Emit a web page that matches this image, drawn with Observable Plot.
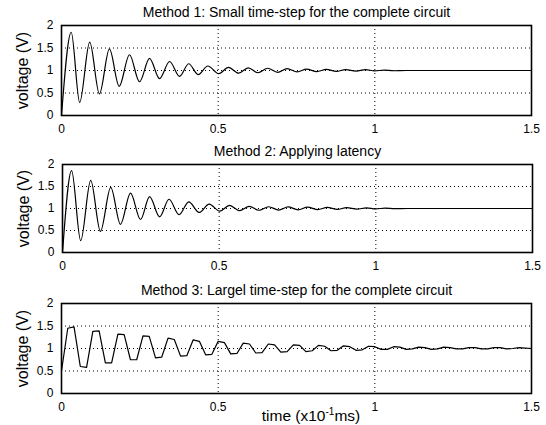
<!DOCTYPE html>
<html>
<head>
<meta charset="utf-8">
<script src="https://cdn.jsdelivr.net/npm/d3@7"></script>
<script src="https://cdn.jsdelivr.net/npm/@observablehq/plot@0.6"></script>
<style>
  html, body { margin: 0; padding: 0; background: #fff; }
  #wrap { position: relative; width: 546px; height: 425px; overflow: hidden; font-family: "Liberation Sans", Arial, sans-serif; }
  .panel { position: absolute; left: 0; }
  #xlabel { position: absolute; left: 211px; width: 200px; top: 408px; text-align: center; font-size: 15.5px; line-height: 16px; color: #000; }
  #xlabel sup { font-size: 10px; vertical-align: 6px; line-height: 0; }
</style>
</head>
<body>
<div id="wrap"></div>
<script>
// ---- Data ----
const titles = [
  "Method 1: Small time-step for the complete circuit",
  "Method 2: Applying latency",
  "Method 3: Largel time-step for the complete circuit"
];
const xTicks = [0, 0.5, 1, 1.5];
const yTicks = [0, 0.5, 1, 1.5, 2];
const yLabel = "voltage (V)";
const xLabelMain = "time (x10";
const xLabelSup = "-1";
const xLabelEnd = "ms)";

// Method 1: turning points (time, voltage)
const m1Time = [0, 0.031, 0.058, 0.090, 0.121, 0.153, 0.184, 0.217, 0.249, 0.281, 0.313, 0.345, 0.377, 0.406, 0.436, 0.467, 0.502,
  0.533, 0.565, 0.596, 0.627, 0.658, 0.690, 0.720, 0.752, 0.782, 0.815, 0.845, 0.877, 0.907, 0.940, 0.970, 1.000, 1.030, 1.060, 1.100, 1.500];
const m1Volt = [0, 1.85, 0.29, 1.63, 0.48, 1.48, 0.65, 1.35, 0.75, 1.27, 0.82, 1.20, 0.87, 1.15, 0.91, 1.10, 0.93,
  1.07, 0.94, 1.06, 0.95, 1.05, 0.96, 1.04, 0.97, 1.03, 0.975, 1.025, 0.98, 1.02, 0.985, 1.02, 0.99, 1.01, 0.995, 1.00, 1.00];

// Method 2: turning points (time, voltage)
const m2Time = [0, 0.029, 0.058, 0.090, 0.121, 0.154, 0.185, 0.217, 0.249, 0.278, 0.310, 0.340, 0.372, 0.403, 0.436, 0.468, 0.502,
  0.533, 0.565, 0.596, 0.627, 0.658, 0.690, 0.720, 0.752, 0.782, 0.815, 0.845, 0.877, 0.907, 0.940, 0.970, 1.000, 1.030, 1.060, 1.100, 1.500];
const m2Volt = [0, 1.86, 0.27, 1.64, 0.48, 1.48, 0.64, 1.35, 0.75, 1.27, 0.81, 1.21, 0.86, 1.15, 0.91, 1.10, 0.94,
  1.07, 0.95, 1.05, 0.96, 1.04, 0.965, 1.035, 0.97, 1.03, 0.975, 1.025, 0.98, 1.02, 0.985, 1.015, 0.99, 1.01, 0.995, 1.00, 1.00];

// Method 3: samples every 0.02 (time x10^-1 ms)
const m3Time = [0, 0.02, 0.04, 0.06, 0.08, 0.10, 0.12, 0.14, 0.16, 0.18, 0.20, 0.22, 0.24, 0.26, 0.28, 0.30, 0.32, 0.34, 0.36, 0.38,
  0.40, 0.42, 0.44, 0.46, 0.48, 0.50, 0.52, 0.54, 0.56, 0.58, 0.60, 0.62, 0.64, 0.66, 0.68, 0.70, 0.72, 0.74, 0.76, 0.78,
  0.80, 0.82, 0.84, 0.86, 0.88, 0.90, 0.92, 0.94, 0.96, 0.98, 1.00, 1.02, 1.04, 1.06, 1.08, 1.10, 1.12, 1.14, 1.16, 1.18,
  1.20, 1.22, 1.24, 1.26, 1.28, 1.30, 1.32, 1.34, 1.36, 1.38, 1.40, 1.42, 1.44, 1.46, 1.48, 1.50];
const m3Volt = [0.50, 1.45, 1.48, 0.60, 0.58, 1.38, 1.39, 0.68, 0.68, 1.32, 1.31, 0.75, 0.75, 1.28, 1.27, 0.79, 0.81, 1.23, 1.20, 0.83,
  0.84, 1.19, 1.16, 0.86, 0.87, 1.16, 1.13, 0.88, 0.89, 1.12, 1.10, 0.90, 0.91, 1.10, 1.08, 0.92, 0.93, 1.08, 1.07, 0.93,
  0.95, 1.07, 1.05, 0.95, 0.96, 1.06, 1.04, 0.96, 0.97, 1.05, 1.04, 0.98, 0.98, 1.04, 1.03, 0.98, 0.99, 1.03, 1.02, 0.98,
  0.99, 1.03, 1.02, 0.99, 0.99, 1.02, 1.02, 0.99, 0.99, 1.02, 1.02, 0.99, 1.00, 1.02, 1.01, 1.00];

const series = [
  {title: titles[0], t: m1Time, v: m1Volt, curve: "monotone-x"},
  {title: titles[1], t: m2Time, v: m2Volt, curve: "monotone-x"},
  {title: titles[2], t: m3Time, v: m3Volt, curve: "linear"}
];

// layout of each panel (svg top, height, margins)
const layout = [
  {top: 0,   height: 140, mt: 25, mb: 25, ml: 61, mr: 15},
  {top: 140, height: 140, mt: 24, mb: 28, ml: 62, mr: 14},
  {top: 280, height: 145, mt: 23, mb: 32, ml: 61, mr: 15}
];

const wrap = document.getElementById("wrap");
series.forEach((s, i) => {
  const L = layout[i];
  const data = s.t.map((t, k) => ({t, v: s.v[k]}));
  const marks = [
    Plot.ruleY(yTicks.slice(1, -1), {stroke: "#000", strokeWidth: 1, strokeDasharray: "1,3"}),
    Plot.ruleX(xTicks.slice(1, -1), {stroke: "#000", strokeWidth: 1, strokeDasharray: "1,3"}),
    Plot.line(data, {x: "t", y: "v", stroke: "#000", strokeWidth: 1.2, curve: s.curve}),
    Plot.frame({stroke: "#000", strokeWidth: 1.6}),
    Plot.axisX(xTicks, {tickSize: 0, tickPadding: 9, fontSize: 12, label: null, tickFormat: d => String(d)}),
    Plot.axisY(yTicks, {tickSize: 0, tickPadding: 8, fontSize: 12, label: null, tickFormat: d => String(d)}),
    Plot.text([yLabel], {frameAnchor: "left", textAnchor: "middle", lineAnchor: "middle", dx: -39, rotate: -90, fontSize: 16, fill: "#000"}),
    Plot.text([s.title], {frameAnchor: "top", lineAnchor: "middle", dy: -13, fontSize: 14, fill: "#000"})
  ];
  const chart = Plot.plot({
    width: 546,
    height: L.height,
    marginTop: L.mt,
    marginBottom: L.mb,
    marginLeft: L.ml,
    marginRight: L.mr,
    style: {fontFamily: "'Liberation Sans', Arial, sans-serif", fontSize: "12px", color: "#000", background: "#fff", overflow: "visible"},
    x: {domain: [0, 1.5]},
    y: {domain: [0, 2]},
    marks
  });
  const div = document.createElement("div");
  div.className = "panel";
  div.style.top = L.top + "px";
  div.appendChild(chart);
  wrap.appendChild(div);
});

const xl = document.createElement("div");
xl.id = "xlabel";
xl.append(xLabelMain);
const sup = document.createElement("sup");
sup.textContent = xLabelSup;
xl.append(sup);
xl.append(xLabelEnd);
wrap.appendChild(xl);
</script>
</body>
</html>
